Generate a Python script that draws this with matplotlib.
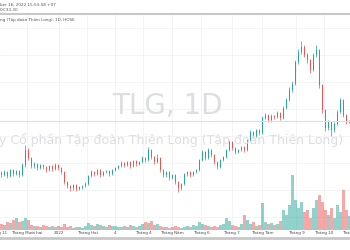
import numpy as np
import matplotlib.pyplot as plt

# Giá đóng cửa, cao, thấp (mỗi nến ~ 2 phiên)
closes = [22.5, 23.1, 22.3, 23.5, 22.7, 23.3, 22.5, 24.5, 27.5, 25.9,
          24.3, 24.7, 23.9, 24.5, 24.1, 23.5, 24.3, 23.7, 24.5, 23.9,
          23.1, 21.1, 20.3, 19.9, 20.5, 19.7, 20.1, 20.3, 20.7, 22.3,
          23.1, 22.7, 23.5, 22.5, 23.1, 23.3, 22.7, 23.5, 23.9, 24.3,
          24.9, 24.5, 25.1, 24.3, 25.3, 24.7, 25.1, 25.9, 25.5, 27.5,
          26.1, 25.1, 25.9, 23.5, 22.5, 23.1, 21.9, 22.5, 21.1, 19.9,
          20.7, 22.7, 23.1, 22.5, 23.1, 23.5, 25.5, 27.1, 25.9, 27.5,
          26.5, 25.1, 24.1, 25.5, 26.1, 27.5, 29.1, 27.9, 27.1, 27.5,
          28.1, 27.5, 29.5, 31.1, 30.3, 31.5, 30.9, 33.9, 34.5, 33.5,
          34.3, 34.1, 34.9, 33.9, 35.9, 37.5, 39.5, 40.7, 45.1, 47.1,
          48.1, 46.5, 45.5, 43.5, 46.5, 47.5, 40.5, 35.5, 31.9, 33.1,
          31.5, 32.7, 35.1, 37.5, 34.5, 33.1, 33.3]
highs = [23.3, 23.5, 23.4, 23.8, 23.7, 23.6, 23.5, 24.9, 28.5, 27.9,
         26.2, 25.1, 25.0, 24.8, 24.8, 24.3, 24.6, 24.5, 24.9, 24.7,
         24.1, 23.3, 21.4, 20.6, 20.8, 20.7, 20.4, 20.6, 21.1, 22.6,
         23.5, 23.4, 23.8, 23.7, 23.4, 23.6, 23.5, 23.8, 24.2, 24.6,
         25.3, 25.1, 25.4, 25.3, 25.6, 25.5, 25.4, 26.3, 26.2, 28.1,
         27.8, 26.4, 26.8, 26.1, 23.8, 23.4, 23.3, 22.8, 22.7, 21.3,
         21.0, 23.0, 23.4, 23.3, 23.4, 23.8, 25.8, 27.6, 27.3, 27.9,
         27.7, 26.7, 25.3, 25.8, 26.4, 27.8, 29.6, 29.3, 28.2, 27.8,
         28.4, 28.3, 29.8, 31.5, 31.3, 31.8, 31.7, 34.4, 35.0, 34.8,
         34.7, 34.6, 35.3, 35.1, 36.3, 38.0, 40.1, 41.3, 45.6, 47.8,
         49.4, 48.5, 47.0, 45.8, 47.0, 48.6, 47.8, 40.8, 35.8, 33.6,
         33.4, 33.1, 35.5, 38.0, 37.8, 34.8, 33.6]
lows = [22.2, 22.3, 22.0, 22.1, 22.4, 22.5, 22.2, 22.3, 24.2, 25.5,
        24.0, 24.0, 23.6, 23.7, 23.8, 23.2, 23.3, 23.4, 23.5, 23.6,
        22.8, 20.8, 20.0, 19.4, 19.6, 19.4, 19.5, 19.8, 20.1, 20.5,
        22.1, 22.4, 22.5, 22.2, 22.3, 22.9, 22.4, 22.5, 23.3, 23.7,
        24.1, 24.2, 24.3, 24.0, 24.1, 24.4, 24.5, 24.9, 25.2, 25.3,
        25.8, 24.8, 24.9, 23.1, 22.1, 22.2, 21.6, 21.7, 20.8, 19.1,
        19.6, 20.5, 22.4, 22.2, 22.3, 22.9, 23.3, 25.3, 25.6, 25.7,
        26.2, 24.8, 23.8, 23.9, 25.3, 25.9, 27.3, 27.6, 26.8, 26.9,
        27.3, 27.2, 27.3, 29.3, 30.0, 30.1, 30.6, 30.7, 33.7, 33.2,
        33.2, 33.8, 33.9, 33.6, 33.7, 35.7, 37.3, 39.2, 40.5, 44.8,
        46.8, 46.1, 45.0, 43.0, 43.3, 46.2, 40.0, 35.0, 31.4, 31.6,
        30.3, 31.2, 32.5, 34.9, 34.2, 32.8, 32.9]
first_open = 23.0
volumes = [6, 5, 8, 7, 10, 12, 8, 9, 12, 10,
           5, 4, 4, 3, 5, 4, 3, 4, 3, 4,
           3, 6, 3, 4, 2, 3, 3, 2, 4, 7,
           5, 4, 6, 5, 4, 3, 5, 4, 4, 3,
           3, 4, 3, 5, 4, 3, 4, 6, 8, 7,
           9, 5, 6, 4, 3, 3, 2, 3, 4, 3,
           2, 3, 4, 3, 5, 4, 8, 6, 5, 4,
           3, 4, 3, 5, 6, 12, 9, 5, 4, 3,
           6, 15, 10, 6, 8, 4, 5, 27, 8, 6,
           7, 5, 6, 9, 20, 15, 25, 55, 30, 22,
           28, 18, 20, 12, 22, 30, 35, 28, 20, 15,
           22, 12, 25, 18, 40, 20, 14]
last_price = 33.3

tick_pos = [-1.2, 8.5, 19.2, 28.5, 37.8, 47.2, 56.8, 66.5, 76.8, 86.8, 98.2, 107.5, 116.8]
tick_labels = ['Tháng 11', 'Tháng Mười hai', '2022', 'Tháng Hai', '4', 'Tháng 4',
               'Tháng Năm', 'Tháng 6', 'Tháng 7', 'Tháng Tám', 'Tháng 9', 'Tháng 10', 'Tháng 11']
price_grid = [51.9, 46.5, 41.1, 35.7, 30.3, 24.9, 19.5, 14.1]

up = '#26a69a'
down = '#ef5350'

x = np.arange(len(closes))
closes = np.array(closes)
opens = np.concatenate([[first_open], closes[:-1]])
colors = [up if c >= o else down for o, c in zip(opens, closes)]

fig = plt.figure(figsize=(3.5, 2.5), dpi=100)
H = 250.0
bottom = 1 - 230 / H
top = 1 - 15 / H

ax_vol = fig.add_axes([0, bottom, 1, top - bottom])
ax = fig.add_axes([0, bottom, 1, top - bottom])
ax.patch.set_visible(False)

# khối lượng
ax_vol.bar(x, volumes, width=0.7, color=colors, alpha=0.5, linewidth=0)
ax_vol.set_ylim(0, 215)
ax_vol.set_xlim(-0.5, 116.17)
ax_vol.set_yticks([])
ax_vol.set_xticks([])
for t in tick_pos:
    ax_vol.axvline(t, color='#f2f3f5', lw=0.6, zorder=0)
for p in price_grid:
    ax_vol.axhline((p - 11.5) / 43 * 215, color='#f2f3f5', lw=0.6, zorder=0)
for s in ax_vol.spines.values():
    s.set_visible(False)

# nến
ax.vlines(x, lows, highs, colors=colors, lw=0.5)
body = np.abs(closes - opens)
body = np.where(body < 0.1, 0.1, body)
ax.bar(x, body, bottom=np.minimum(opens, closes), width=0.6, color=colors, linewidth=0)
ax.axhline(last_price, color='#cfe6e6', lw=0.8)
ax.set_xlim(-0.5, 116.17)
ax.set_ylim(11.5, 54.5)
ax.set_xticks([])
ax.set_yticks([])
for s in ax.spines.values():
    s.set_visible(False)

for t, lab in zip(tick_pos, tick_labels):
    ax.text(t, -0.014, lab, transform=ax.get_xaxis_transform(), ha='center', va='center',
            fontsize=3, color='#4a4a4a', clip_on=False)

# watermark
fig.text(167 / 350, 1 - 106 / H, 'TLG, 1D', ha='center', va='center', fontsize=20,
         color='#dcdee2', zorder=0)
fig.text(-1 / 350, 1 - 140 / H, 'y Cổ phần Tập đoàn Thiên Long (Tập đoàn Thiên Long)',
         ha='left', va='center', fontsize=9, color='#dcdee2', zorder=0)

# tiêu đề
fig.text(0, 1 - 5 / H, 'ber 16, 2022 15:53:58 +07', ha='left', va='center', fontsize=3, color='#555555')
fig.text(0, 1 - 10 / H, '0:C33.30', ha='left', va='center', fontsize=3, color='#555555')
fig.text(0, 1 - 20 / H, 'ng (Tập đoàn Thiên Long), 1D, HOSE', ha='left', va='center', fontsize=3, color='#555555')

fig.add_artist(plt.Line2D([0, 1], [1 - 14 / H, 1 - 14 / H], color='#c8c8c8', lw=1.5))
fig.add_artist(plt.Line2D([0, 1], [1 - 238 / H, 1 - 238 / H], color='#c8c8c8', lw=2))

fig.savefig('out.png', dpi=100)
